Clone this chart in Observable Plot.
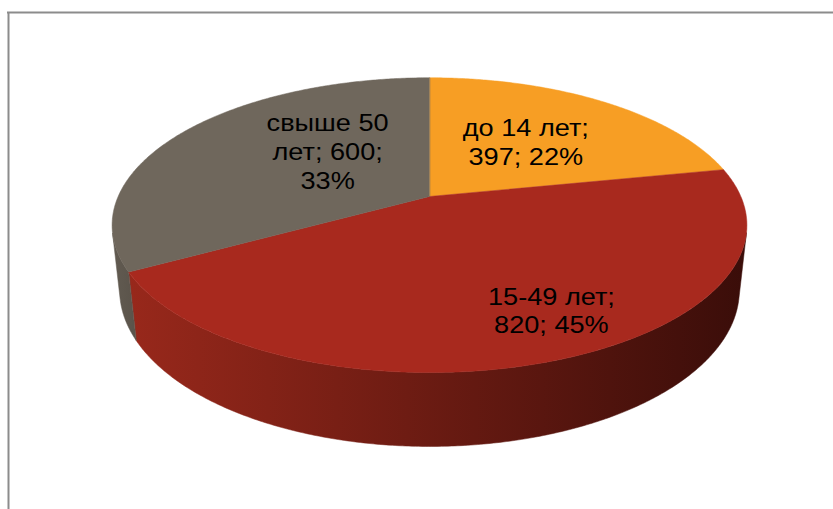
<!DOCTYPE html>
<html>
<head>
<meta charset="utf-8">
<script src="https://cdn.jsdelivr.net/npm/d3@7"></script>
<script src="https://cdn.jsdelivr.net/npm/@observablehq/plot@0.6"></script>
<style>
  html, body { margin: 0; padding: 0; background: #fff; overflow: hidden; }
  #chart { width: 833px; height: 509px; }
</style>
</head>
<body>
<div id="chart"></div>
<script>
// ---- data ----
const categories = ["до 14 лет", "15-49 лет", "свыше 50 лет"];
const values = [397, 820, 600];

// ---- style ----
const topColors = ["#F79E24", "#A8291E", "#6F675C"];
const wallFills = ["#C27A1B", "url(#redWall)", "url(#greyWall)"];
const labelTweak = [{dr: 0.54, da: -1}, {dr: 0.77, da: -6}, {dr: 0.49, da: 14}];
const textStretch = 1.13;

// ---- 3D projection of a tilted pie ----
const cx = 429, cy = 196, f = 1426, D = 4.58;
const tilt = 27.1 * Math.PI / 180, cs = Math.cos(tilt), sn = Math.sin(tilt);
const depth = 0.236;
function proj(thetaDeg, r, z) {
  const t = thetaDeg * Math.PI / 180;
  const X = r * Math.sin(t), Y = r * Math.cos(t);
  const yc = Y * sn + z * cs;
  const d = D + Y * cs - z * sn;
  return {x: cx + f * X / d, y: cy - f * yc / d};
}

const total = d3.sum(values);
let acc = 0;
const slices = values.map((v, i) => {
  const a0 = acc / total * 360;
  acc += v;
  const a1 = acc / total * 360;
  return {i, cat: categories[i], value: v, pct: Math.round(v / total * 100), a0, a1};
});

// visible range of outer wall (front facing)
const silA = Math.acos(-1 / (D * cs)) * 180 / Math.PI; // right silhouette
const silB = 360 - silA;                             // left silhouette

function arc(a, b, r, z) {
  const n = Math.max(2, Math.ceil(Math.abs(b - a) / 0.5));
  return d3.range(n + 1).map(k => proj(a + (b - a) * k / n, r, z));
}

const marks = [];
// border of chart area
marks.push(Plot.ruleX([8], {y1: 12, y2: 509, stroke: "#8c8c8c", strokeWidth: 2}));
marks.push(Plot.ruleY([12], {x1: 7, x2: 833, stroke: "#8c8c8c", strokeWidth: 2}));

// walls
for (const s of slices) {
  const a = Math.max(s.a0, silA), b = Math.min(s.a1, silB);
  if (b <= a) continue;
  const pts = [...arc(a, b, 1, 0), ...arc(b, a, 1, -depth)];
  marks.push(Plot.line(pts, {x: "x", y: "y", fill: wallFills[s.i], stroke: wallFills[s.i], strokeWidth: 0.5, curve: "linear-closed"}));
}
// tops
for (const s of slices) {
  const pts = [proj(0, 0, 0), ...arc(s.a0, s.a1, 1, 0)];
  marks.push(Plot.line(pts, {x: "x", y: "y", fill: topColors[s.i], stroke: topColors[s.i], strokeWidth: 0.5, curve: "linear-closed"}));
}

// labels
const ctx = document.createElement("canvas").getContext("2d");
ctx.font = "24px 'Liberation Sans'";
function labelText(s) {
  const full = `${s.cat}; ${s.value}; ${s.pct}%`;
  const words = full.split(" ");
  const maxW = 125;
  const lines = [];
  let cur = "";
  for (const w of words) {
    const t = cur ? cur + " " + w : w;
    if (cur && ctx.measureText(t).width > maxW) { lines.push(cur); cur = w; }
    else cur = t;
  }
  lines.push(cur);
  return lines.join("\n");
}
const labels = slices.map(s => {
  const p = proj((s.a0 + s.a1) / 2 + labelTweak[s.i].da, labelTweak[s.i].dr, 0);
  return {x: p.x, y: p.y, text: labelText(s)};
});
marks.push(Plot.text(labels, {x: "x", y: "y", text: "text", fill: "#000", fontSize: 24, lineHeight: 1.2, textAnchor: "middle", lineAnchor: "middle", fontFamily: "'Liberation Sans', Arial, sans-serif"}));

const chart = Plot.plot({
  width: 833, height: 509, margin: 0,
  x: {domain: [0, 833], range: [0, 833], axis: null},
  y: {domain: [0, 509], range: [0, 509], axis: null},
  style: {background: "#fff", overflow: "hidden"},
  marks
});

d3.select(chart).insert("defs", ":first-child").html(`
  <linearGradient id="redWall" x1="0" x2="1" y1="0" y2="0">
    <stop offset="0" stop-color="#98281B"/>
    <stop offset="0.45" stop-color="#6E1C13"/>
    <stop offset="1" stop-color="#3A0D09"/>
  </linearGradient>
  <linearGradient id="greyWall" x1="0" x2="1" y1="0" y2="0">
    <stop offset="0" stop-color="#625B51"/>
    <stop offset="1" stop-color="#5A534A"/>
  </linearGradient>`);

document.getElementById("chart").appendChild(chart);

// widen the glyphs slightly, like the original rendering
d3.select(chart).selectAll("text tspan").each(function () {
  const w = this.getComputedTextLength();
  if (w > 0) {
    this.setAttribute("textLength", (w * textStretch).toFixed(1));
    this.setAttribute("lengthAdjust", "spacingAndGlyphs");
  }
});
</script>
</body>
</html>
